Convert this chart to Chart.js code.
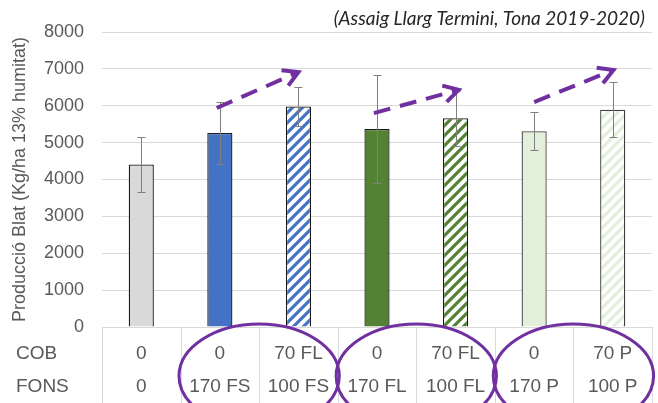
<!DOCTYPE html>
<html>
<head>
<meta charset="utf-8">
<script src="https://cdn.jsdelivr.net/npm/chart.js@4.4.1/dist/chart.umd.min.js"></script>
<style>
  html, body { margin: 0; padding: 0; background: #fff; }
</style>
</head>
<body>
<canvas id="chart" width="658" height="403"></canvas>
<script>
// Treatments: top dressing (COB) and base dressing (FONS)
const cobLabels = ['0', '0', '70 FL', '0', '70 FL', '0', '70 P'];
const fonsLabels = ['0', '170 FS', '100 FS', '170 FL', '100 FL', '170 P', '100 P'];
const rowLabels = ['COB', 'FONS'];

// Wheat yield (kg/ha at 13% moisture) and its deviation
const yields = [4410, 5260, 5980, 5370, 5660, 5310, 5890];
const yieldErr = [750, 830, 520, 1465, 750, 510, 745];

const yTicks = [0, 1000, 2000, 3000, 4000, 5000, 6000, 7000, 8000];

// Pairs of treatments that get circled, and the trend arrows between them
const circled = [[1, 2], [3, 4], [5, 6]];
const arrowFrom = [[0.96, 5940], [2.96, 5800], [5.0, 6100]];
const arrowTo = [[2.0, 6915], [4.04, 6430], [6.01, 6970]];

const GREY = '#595959';
const PURPLE = '#7030A0';
const FONT = '"Liberation Sans", Arial, sans-serif';

function hatch(color) {
    const s = 10;
    const c = document.createElement('canvas');
    c.width = s; c.height = s;
    const g = c.getContext('2d');
    g.fillStyle = '#fff';
    g.fillRect(0, 0, s, s);
    g.strokeStyle = color;
    g.lineWidth = 3.2;
    g.beginPath();
    g.moveTo(-s / 2, s / 2); g.lineTo(s / 2, -s / 2);
    g.moveTo(0, s); g.lineTo(s, 0);
    g.moveTo(s / 2, s * 1.5); g.lineTo(s * 1.5, s / 2);
    g.stroke();
    return g.createPattern(c, 'repeat');
}

const fills = [
    '#D9D9D9', '#4472C4', hatch('#4472C4'),
    '#548235', hatch('#548235'),
    '#E2EFDA', hatch('#E2EFDA')
];
const borders = ['#1a1a1a', '#1a1a1a', '#1a1a1a', '#1a1a1a', '#1a1a1a', '#404040', '#404040'];

const extras = {
    id: 'extras',
    afterDatasetsDraw(chart) {
        const { ctx, scales: { x, y } } = chart;
        ctx.save();
        ctx.strokeStyle = '#808080';
        ctx.lineWidth = 1;
        yields.forEach((v, i) => {
            const px = Math.round(x.getPixelForValue(i)) + 0.5;
            const top = Math.round(y.getPixelForValue(v + yieldErr[i])) + 0.5;
            const bot = Math.round(y.getPixelForValue(v - yieldErr[i])) + 0.5;
            ctx.beginPath();
            ctx.moveTo(px, top); ctx.lineTo(px, bot);
            ctx.moveTo(px - 4, top); ctx.lineTo(px + 4, top);
            ctx.moveTo(px - 4, bot); ctx.lineTo(px + 4, bot);
            ctx.stroke();
        });
        ctx.restore();
    },
    afterDraw(chart) {
        const { ctx, chartArea, scales: { x, y } } = chart;
        const half = (x.getPixelForValue(1) - x.getPixelForValue(0)) / 2;
        ctx.save();

        // table cell borders under the axis
        ctx.strokeStyle = '#d9d9d9';
        ctx.lineWidth = 1;
        ctx.beginPath();
        for (let i = 0; i <= cobLabels.length; i++) {
            const px = Math.round(x.getPixelForValue(i) - half) + 0.5;
            ctx.moveTo(px, chartArea.bottom);
            ctx.lineTo(px, chart.height);
        }
        ctx.stroke();

        // row headers
        ctx.fillStyle = GREY;
        ctx.font = '19px ' + FONT;
        ctx.textAlign = 'left';
        ctx.textBaseline = 'middle';
        rowLabels.forEach((t, r) => ctx.fillText(t, 16, chartArea.bottom + 27 + r * 33));

        // subtitle
        ctx.fillStyle = '#262626';
        ctx.font = 'italic 19px Lato, sans-serif';
        ctx.textAlign = 'right';
        ctx.fillText('(Assaig Llarg Termini, Tona 2019-2020)', 645, 19);

        // circles around compared pairs
        ctx.strokeStyle = PURPLE;
        ctx.lineWidth = 3;
        circled.forEach(([a, b]) => {
            const cx = (x.getPixelForValue(a) + x.getPixelForValue(b)) / 2;
            ctx.beginPath();
            ctx.ellipse(cx, chartArea.bottom + 49, half * 2 * 1.02, 52, 0, 0, Math.PI * 2);
            ctx.stroke();
        });

        // dashed trend arrows
        ctx.lineWidth = 4;
        arrowFrom.forEach((f, k) => {
            const t = arrowTo[k];
            const x0 = x.getPixelForValue(f[0]), y0 = y.getPixelForValue(f[1]);
            const x1 = x.getPixelForValue(t[0]), y1 = y.getPixelForValue(t[1]);
            const ang = Math.atan2(y1 - y0, x1 - x0);
            ctx.setLineDash([17, 10]);
            ctx.beginPath();
            ctx.moveTo(x0, y0);
            ctx.lineTo(x1 - 3 * Math.cos(ang), y1 - 3 * Math.sin(ang));
            ctx.stroke();
            ctx.setLineDash([]);
            ctx.beginPath();
            ctx.moveTo(x1 - 17 * Math.cos(ang - 0.52), y1 - 17 * Math.sin(ang - 0.52));
            ctx.lineTo(x1, y1);
            ctx.lineTo(x1 - 17 * Math.cos(ang + 0.52), y1 - 17 * Math.sin(ang + 0.52));
            ctx.stroke();
        });
        ctx.restore();
    }
};

new Chart(document.getElementById('chart'), {
    type: 'bar',
    data: {
        labels: cobLabels.map((c, i) => [c, fonsLabels[i]]),
        datasets: [{
            data: yields,
            backgroundColor: fills,
            borderColor: borders,
            borderWidth: 1.3,
            barPercentage: 0.32,
            categoryPercentage: 1
        }]
    },
    options: {
        responsive: false,
        animation: false,
        layout: { padding: { top: 32, right: 6, left: 0, bottom: 0 } },
        plugins: { legend: { display: false }, tooltip: { enabled: false } },
        scales: {
            x: {
                grid: { display: false, drawTicks: false },
                border: { display: false },
                ticks: {
                    color: GREY,
                    font: { family: FONT, size: 19, lineHeight: 1.74 },
                    padding: 10,
                    maxRotation: 0,
                    autoSkip: false
                },
                afterFit: s => { s.height = 76; }
            },
            y: {
                min: 0,
                max: 8000,
                afterBuildTicks: s => { s.ticks = yTicks.map(v => ({ value: v })); },
                grid: { color: '#d9d9d9', drawTicks: false },
                border: { display: false },
                ticks: {
                    color: GREY,
                    font: { family: FONT, size: 18 },
                    padding: 18,
                    callback: v => String(v)
                },
                title: {
                    display: true,
                    text: 'Producció Blat (Kg/ha 13% humitat)',
                    color: GREY,
                    font: { family: FONT, size: 18 },
                    padding: { top: 9, bottom: 0 }
                },
                afterFit: s => { s.width = 102; }
            }
        }
    },
    plugins: [extras]
});
</script>
</body>
</html>
